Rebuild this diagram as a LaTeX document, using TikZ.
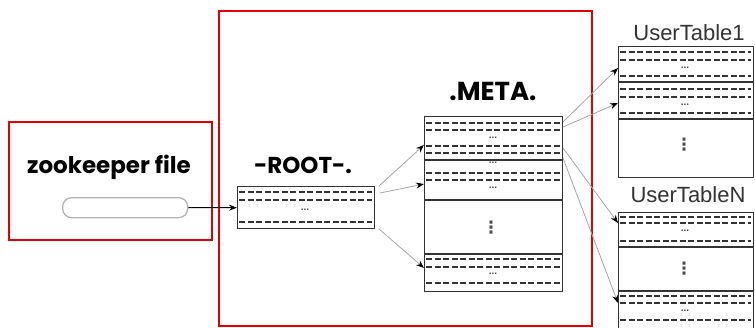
\documentclass[tikz,border=0pt]{standalone}
\usepackage{fontspec}
\setmainfont{Liberation Sans}
\newfontfamily\popfont{Poppins}
\newfontfamily\dejavu{DejaVu Sans}
\usetikzlibrary{arrows.meta}
\tikzset{
  redframe/.style={draw=red!90!black, line width=2pt},
  tablebox/.style={draw=black!80, line width=1.4pt, anchor=north west, inner sep=0pt},
  sepline/.style={draw=black!80, line width=1.4pt},
  dashline/.style={draw=black!80, line width=1.3pt, dash pattern=on 6pt off 2.5pt},
  dotsl/.style={font=\fontsize{10}{10}\selectfont\bfseries, text=black!70, inner sep=0pt},
  vdotsl/.style={font=\dejavu\fontsize{17}{17}\selectfont\bfseries, text=black!70, inner sep=0pt},
  boldlabel/.style={inner sep=0pt},
  thinlabel/.style={font=\fontsize{22}{22}\selectfont, text=black!80, inner sep=0pt},
  ptr/.style={draw=black!35, line width=0.8pt, -{Stealth[length=8pt,width=6pt,black]}},
}
\begin{document}
\begin{tikzpicture}[x=1pt,y=-1pt]
\useasboundingbox (0,0) rectangle (755,327);
% red frames
\node[redframe, anchor=north west, minimum width=203pt, minimum height=118pt, inner sep=0pt] (zkframe) at (8,121) {};
\node[redframe, anchor=north west, minimum width=373pt, minimum height=315pt, inner sep=0pt] (hbframe) at (218,10) {};
% zookeeper
\node[boldlabel, font=\popfont\bfseries\fontsize{23}{23}\selectfont] (zklabel) at (109,167) {zookeeper file};
\node[draw=black!30, line width=1.3pt, rounded corners=9pt, anchor=north west, minimum width=125pt, minimum height=20pt, inner sep=0pt] (pill) at (62,197) {};
% ROOT
\node[boldlabel, font=\popfont\bfseries\fontsize{23}{23}\selectfont] (rootlabel) at (303,165) {-ROOT-.};
% ROOT table
\node[tablebox, minimum width=137pt, minimum height=42pt] (root) at (237,186) {};
\foreach \y in {192,200,222} \draw[dashline] (239,\y) -- (372,\y);
\node[dotsl] (rootdots) at (305,210) {...};
% META
\node[boldlabel, font=\popfont\bfseries\fontsize{26}{26}\selectfont] (metalabel) at (493,91) {.META.};
\node[tablebox, minimum width=138pt, minimum height=175pt] (meta) at (424,116) {};
\foreach \y in {160,200,254} \draw[sepline] (424,\y) -- (562,\y);
\foreach \y in {123,130,146,153,173,180,259,267,283} \draw[dashline] (426,\y) -- (560,\y);
\foreach \y/\n in {138/a,163/b,188/c,274/d} \node[dotsl] (metadots\n) at (493,\y) {...};
\node[vdotsl] (metavdots) at (491,228) {⋮};
% UserTable1
\node[thinlabel] (ut1label) at (689,33) {UserTable1};
\node[tablebox, minimum width=135pt, minimum height=131pt] (ut1) at (618,46) {};
\foreach \y in {82,119} \draw[sepline] (618,\y) -- (753,\y);
\foreach \y in {52,60,76,89,97,113} \draw[dashline] (620,\y) -- (751,\y);
\foreach \y/\n in {68/a,105/b} \node[dotsl] (ut1dots\n) at (685,\y) {...};
\node[vdotsl] (ut1vdots) at (684,145) {⋮};
% UserTableN
\node[thinlabel] (utnlabel) at (688,195) {UserTableN};
\node[tablebox, minimum width=135pt, minimum height=116pt] (utn) at (618,212) {};
\foreach \y in {247,291} \draw[sepline] (618,\y) -- (753,\y);
\foreach \y in {217,223,241,296,303,320} \draw[dashline] (620,\y) -- (751,\y);
\foreach \y/\n in {231/a,311/b} \node[dotsl] (utndots\n) at (685,\y) {...};
\node[vdotsl] (utnvdots) at (684,269) {⋮};
% connector end points
\coordinate (r1) at (379,186);
\coordinate (r2) at (380,193);
\coordinate (r3) at (379,229);
\coordinate (m1) at (424,145);
\coordinate (m2) at (424,184);
\coordinate (m3) at (424,268);
\coordinate (ms1) at (563,122);
\coordinate (ms2) at (563,127);
\coordinate (ms3) at (563,148);
\coordinate (ms4) at (563,158);
\coordinate (u1) at (618,68);
\coordinate (u2) at (618,103);
\coordinate (u3) at (618,223);
\coordinate (u4) at (618,303);
% connectors
\draw[black, line width=1pt, -{Stealth[length=8pt,width=6pt]}] (pill.east) -- (root.west);
\draw[ptr] (r1) -- (m1);
\draw[ptr] (r2) -- (m2);
\draw[ptr] (r3) -- (m3);
\draw[ptr] (ms1) -- (u1);
\draw[ptr] (ms2) -- (u2);
\draw[ptr] (ms3) -- (u3);
\draw[ptr] (ms4) -- (u4);
\end{tikzpicture}
\end{document}
